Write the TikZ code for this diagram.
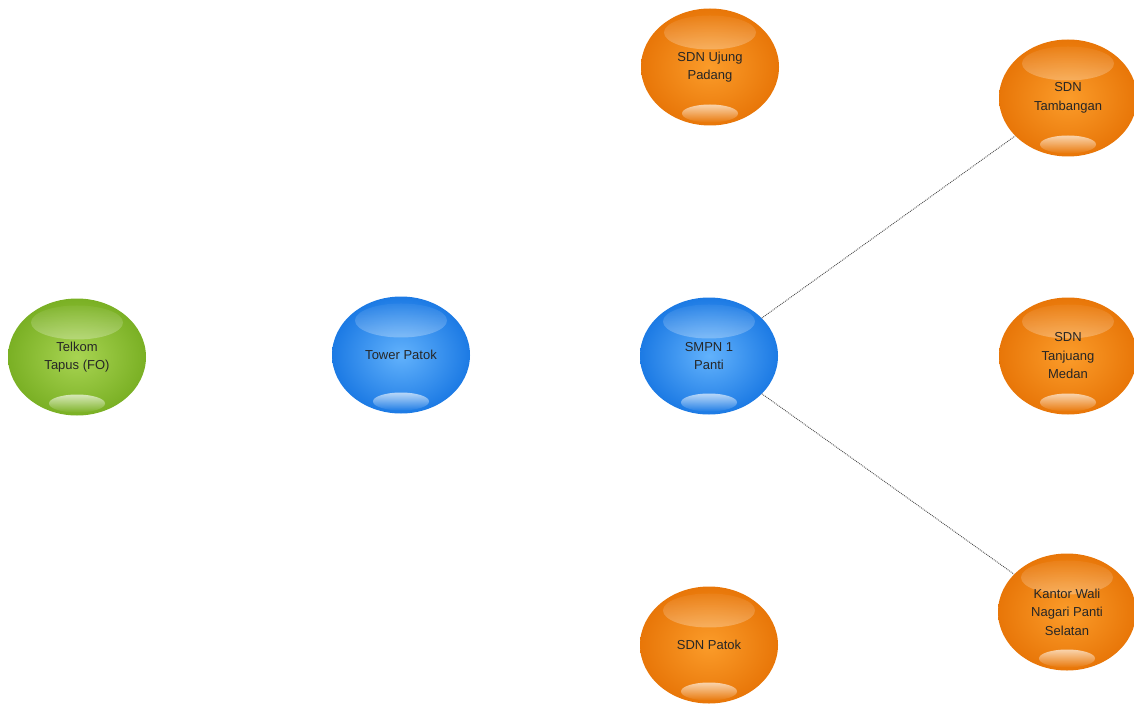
\documentclass[tikz,border=0pt]{standalone}
\usepackage{fontspec}
\setmainfont{Liberation Sans}
\usetikzlibrary{shapes.geometric,fadings}

\definecolor{orgin}{RGB}{251,156,42}
\definecolor{orgout}{RGB}{232,118,8}
\definecolor{bluin}{RGB}{98,178,252}
\definecolor{bluout}{RGB}{28,122,228}
\definecolor{grnin}{RGB}{168,212,82}
\definecolor{grnout}{RGB}{122,176,36}

\begin{document}
\begin{tikzpicture}[x=1pt,y=-1pt,
    ball/.style={ellipse,minimum width=138pt,minimum height=117pt,inner sep=0pt,
      align=center,font=\fontsize{13}{18.5}\selectfont,text=black!85,
      shading=radial,inner color=#1in,outer color=#1out,
      path picture={
        \fill[white,path fading=north,fill opacity=.8]
          ([yshift=-24pt]path picture bounding box.north) ellipse (46pt and 17pt);
        \fill[white,path fading=south,fill opacity=.65]
          ([yshift=12pt]path picture bounding box.south) ellipse (28pt and 9pt);
      }},
    link/.style={densely dotted,line width=.9pt,black!70}]
  \useasboundingbox (0,0) rectangle (1134,711);
  % source and relay
  \node[ball=grn] (telkom) at (77,357) {Telkom\\Tapus (FO)};
  \node[ball=blu] (tower) at (401,355) {Tower Patok};
  \node[ball=blu] (smpn) at (709,356) {SMPN 1\\Panti};
  % schools
  \foreach \n/\x/\y/\t in {ujung/710/67/{SDN Ujung\\Padang},
      tamb/1068/98/{SDN\\Tambangan},
      tanj/1068/356/{SDN\\Tanjuang\\Medan},
      kantor/1067/612/{Kantor Wali\\Nagari Panti\\Selatan},
      patok/709/645/{SDN Patok}} {%
    \node[ball=org] (\n) at (\x,\y) {\t};
  }
  \draw[link] (smpn) -- (tamb);
  \draw[link] (smpn) -- (kantor);
\end{tikzpicture}
\end{document}
